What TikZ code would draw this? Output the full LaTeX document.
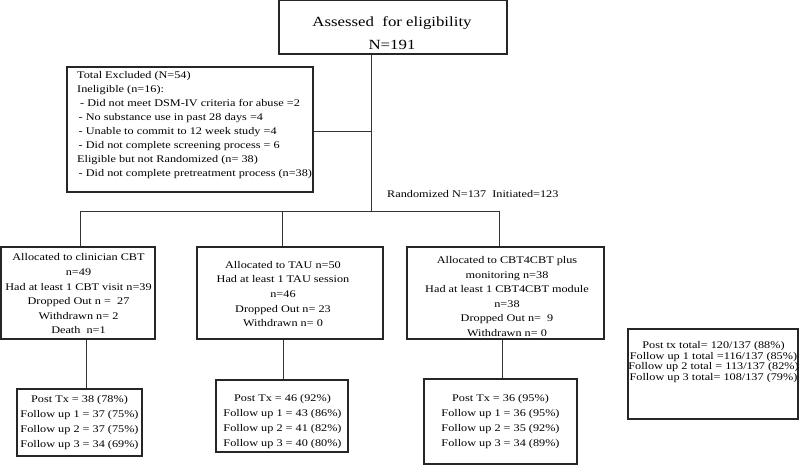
\documentclass[tikz,border=0pt]{standalone}
\usepackage{fontspec}
\setmainfont{Liberation Serif}[FakeStretch=1.2]
\begin{document}
\begin{tikzpicture}[x=1pt,y=-1pt,
  box/.style={draw=black!85, line width=1.25pt, inner sep=0pt, rectangle},
  txt/.style={inner sep=0pt, align=center, text=black, font=\fontsize{10.2}{14.6}\selectfont},
  conn/.style={draw=black!80, line width=0.9pt}]
\useasboundingbox (0,0) rectangle (800,465);
% boxes
\node[box, minimum width=228, minimum height=53.3] (top) at (393,27.35) {};
\node[box, minimum width=246, minimum height=125] (excl) at (190,129.5) {};
\node[box, minimum width=154, minimum height=92] (g1) at (78,293) {};
\node[box, minimum width=186, minimum height=92] (g2) at (290,293) {};
\node[box, minimum width=197, minimum height=92] (g3) at (505.5,293) {};
\node[box, minimum width=125, minimum height=67] (l1) at (79.5,422.5) {};
\node[box, minimum width=132, minimum height=72] (l2) at (282,416) {};
\node[box, minimum width=153, minimum height=85] (l3) at (500.5,421.5) {};
\node[box, minimum width=170, minimum height=90] (tot) at (713,374) {};
% texts
\node[txt, font=\fontsize{14}{23}\selectfont] (top-t) at (392,33.5) {Assessed \ for eligibility\\N=191};
\node[txt, align=left, anchor=west, font=\fontsize{10.2}{14}\selectfont] (excl-t) at (77,125) {Total Excluded (N=54)\\
Ineligible (n=16):\\
\hspace*{3pt}- Did not meet DSM-IV criteria for abuse =2\\
\hspace*{1.5pt}- No substance use in past 28 days =4\\
\hspace*{1.5pt}- Unable to commit to 12 week study =4\\
\hspace*{1.5pt}- Did not complete screening process = 6\\
Eligible but not Randomized (n= 38)\\
\hspace*{1.5pt}- Did not complete pretreatment process (n=38)};
\node[txt, anchor=west] (rand) at (387,194) {Randomized N=137 \ Initiated=123};
\node[txt] (g1-t) at (78.5,294) {Allocated to clinician CBT\\n=49\\Had at least 1 CBT visit n=39\\Dropped Out n = \ 27\\Withdrawn n= 2\\Death \ n=1};
\node[txt] (g2-t) at (283,294) {Allocated to TAU n=50\\Had at least 1 TAU session\\n=46\\Dropped Out n= 23\\Withdrawn n= 0};
\node[txt] (g3-t) at (507,296.5) {Allocated to CBT4CBT plus\\monitoring n=38\\Had at least 1 CBT4CBT module\\n=38\\Dropped Out n= \ 9\\Withdrawn n= 0};
\node[txt, font=\fontsize{10.2}{15}\selectfont] (l1-t) at (79.5,422.5) {Post Tx = 38 (78\%)\\Follow up 1 = 37 (75\%)\\Follow up 2 = 37 (75\%)\\Follow up 3 = 34 (69\%)};
\node[txt, font=\fontsize{10.2}{15}\selectfont] (l2-t) at (282.5,421.5) {Post Tx = 46 (92\%)\\Follow up 1 = 43 (86\%)\\Follow up 2 = 41 (82\%)\\Follow up 3 = 40 (80\%)};
\node[txt, font=\fontsize{10.2}{15}\selectfont] (l3-t) at (500.5,422) {Post Tx = 36 (95\%)\\Follow up 1 = 36 (95\%)\\Follow up 2 = 35 (92\%)\\Follow up 3 = 34 (89\%)};
\node[txt, font=\fontsize{10.2}{10.8}\selectfont] (tot-t) at (713.5,362) {Post tx total= 120/137 (88\%)\\Follow up 1 total =116/137 (85\%)\\Follow up 2 total = 113/137 (82\%)\\Follow up 3 total= 108/137 (79\%)};
% connector coordinates
\coordinate (j) at (371,211);
\coordinate (hl) at (80,211);
\coordinate (hm) at (282,211);
\coordinate (hr) at (499,211);
\coordinate (ex) at (0,131);
\coordinate (x1) at (86,0);
\coordinate (x2) at (283,0);
\coordinate (x3) at (502,0);
% connectors
\draw[conn] (top.south -| j) -- (j);
\draw[conn] (excl.east |- ex) -- (j |- ex);
\draw[conn] (g1.north -| hl) -- (hl) -- (hr) -- (g3.north -| hr);
\draw[conn] (hm) -- (g2.north -| hm);
\draw[conn] (g1.south -| x1) -- (l1.north -| x1);
\draw[conn] (g2.south -| x2) -- (l2.north -| x2);
\draw[conn] (g3.south -| x3) -- (l3.north -| x3);
\end{tikzpicture}
\end{document}
